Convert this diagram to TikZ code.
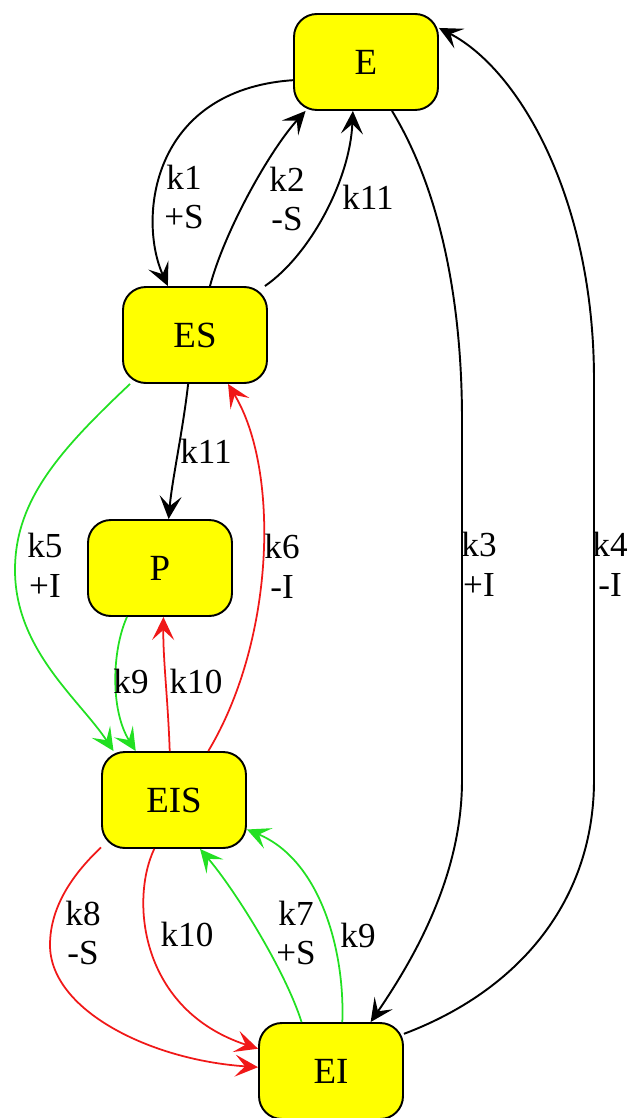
\documentclass[tikz,border=0pt]{standalone}
\usepackage{fontspec}
\setmainfont{Liberation Serif}
\usetikzlibrary{arrows.meta,positioning}
\definecolor{stateyellow}{HTML}{FFFF00}
\definecolor{inhgreen}{HTML}{22E022}
\definecolor{inhred}{HTML}{F01818}
\tikzset{
  state_box/.style={draw=black,fill=stateyellow,rounded corners=13pt,line width=1.1pt,
    minimum width=2.88cm,minimum height=1.92cm,inner sep=0pt,font=\fontsize{21}{24}\selectfont},
  lbl/.style={inner sep=0pt,align=center,font=\fontsize{20}{22.7}\selectfont},
  arr/.style={-{Stealth[length=0.46cm,width=0.44cm,inset=0.2cm]},draw=black,line width=1.1pt},
  arr_g/.style={arr,draw=inhgreen,line width=1pt},
  arr_r/.style={arr,draw=inhred,line width=1pt},
}

\begin{document}
\begin{tikzpicture}[x=0.02cm,y=-0.02cm]
  \useasboundingbox (0,0) rectangle (631,1118);
  % states
  \node[state_box] (e)   at (366,62)   {E};
  \node[state_box] (es)  at (195,335)  {ES};
  \node[state_box] (p)   at (160,568)  {P};
  \node[state_box] (eis) at (174,800)  {EIS};
  \node[state_box] (ei)  at (331,1071) {EI};
  % E <-> ES
  \draw[arr](e.194) .. controls (150,90) and (138,220) .. (es.119);
  \draw[arr](es.73) .. controls (225,230) and (270,150) .. (e.219);
  \draw[arr](es.35) .. controls (310,255) and (350,180) .. (e.255);
  % E <-> EI
  \draw[arr](e.298) .. controls (440,190) and (462,300) .. (462,420) -- (462,780)
    .. controls (462,870) and (420,950) .. (ei.51);
  \draw[arr](ei.27) .. controls (520,990) and (594,900) .. (594,780) -- (594,380)
    .. controls (594,200) and (520,70) .. (e.25);
  % ES -> P, ES <-> EIS
  \draw[arr](es.262) .. controls (183,430) and (172,480) .. (p.80);
  \draw[arr_g](es.217) .. controls (60,450) and (15,500) .. (15,570)
    .. controls (15,650) and (80,700) .. (eis.141);
  \draw[arr_r](eis.55) .. controls (275,640) and (280,470) .. (es.304);
  % P <-> EIS
  \draw[arr_g](p.236) .. controls (112,650) and (110,710) .. (eis.128);
  \draw[arr_r](eis.95) .. controls (168,700) and (163,660) .. (p.274);
  % EIS <-> EI
  \draw[arr_r](eis.213) .. controls (75,872) and (50,905) .. (50,945)
    .. controls (50,1010) and (150,1060) .. (ei.177);
  \draw[arr_r](eis.248) .. controls (130,900) and (140,1010) .. (ei.163);
  \draw[arr_g](ei.121) .. controls (285,970) and (235,890) .. (eis.298);
  \draw[arr_g](ei.77) .. controls (345,950) and (320,860) .. (eis.338);
  % rate labels
  \node[lbl] (l_k1)  at (184,197) {k1\\+S};
  \node[lbl] (l_k2)  at (287,199) {k2\\-S};
  \node[lbl] (l_k11) at (368,197) {k11};
  \node[lbl] (l_k3)  at (479,564) {k3\\+I};
  \node[lbl] (l_k4)  at (610,564) {k4\\-I};
  \node[lbl] (l_k11p) at (206,451) {k11};
  \node[lbl] (l_k5)  at (45,565)  {k5\\+I};
  \node[lbl] (l_k6)  at (282,566) {k6\\-I};
  \node[lbl] (l_k9p) at (131,681) {k9};
  \node[lbl] (l_k10p) at (196,681) {k10};
  \node[lbl] (l_k8)  at (83,933)  {k8\\-S};
  \node[lbl] (l_k10) at (187,934) {k10};
  \node[lbl] (l_k7)  at (296,933) {k7\\+S};
  \node[lbl] (l_k9)  at (358,935) {k9};
\end{tikzpicture}
\end{document}
